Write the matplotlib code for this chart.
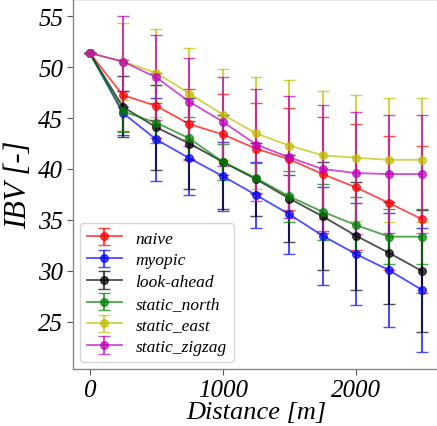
import matplotlib
matplotlib.use("Agg")
import matplotlib.pyplot as plt

distance = [0, 250, 500, 750, 1000, 1250, 1500, 1750, 2000, 2250, 2500]

naive = [51.4, 47.25, 46.2, 44.4, 43.4, 42.0, 40.95, 39.5, 38.2, 36.65, 35.05]
naive_err = [0, 3.5, 3.2, 3.5, 4.0, 4.5, 5.0, 5.6, 6.2, 6.6, 7.2]

myopic = [51.4, 45.5, 42.9, 41.05, 39.3, 37.45, 35.55, 33.45, 31.65, 30.05, 28.1]
myopic_err = [0, 2.2, 4.1, 3.65, 3.4, 3.2, 3.86, 4.8, 5.0, 5.6, 6.1]

look_ahead = [51.4, 46.1, 44.1, 42.5, 40.7, 39.0, 37.1, 35.35, 33.45, 31.75, 29.95]
look_ahead_err = [0, 3.0, 4.2, 4.44, 4.6, 3.6, 4.26, 5.3, 5.3, 5.0, 6.0]

static_north = [51.4, 45.65, 44.55, 43.0, 40.7, 39.1, 37.3, 35.8, 34.5, 33.35, 33.35]
static_north_err = [0, 2.0, 1.95, 2.06, 1.8, 1.5, 2.55, 2.73, 2.7, 2.67, 2.72]

static_east = [51.4, 50.55, 49.45, 47.4, 45.35, 43.5, 42.3, 41.35, 41.1, 40.9, 40.9]
static_east_err = [0, 3.8, 4.3, 4.5, 4.5, 5.5, 6.4, 6.3, 6.2, 6.1, 6.1]

static_zigzag = [51.4, 50.55, 49.0, 46.6, 44.65, 42.4, 41.15, 40.0, 39.6, 39.5, 39.5]
static_zigzag_err = [0, 4.5, 4.2, 4.3, 4.4, 5.5, 6.0, 6.3, 6.0, 5.8, 5.8]

labels = ["naive", "myopic", "look-ahead", "static_north", "static_east", "static_zigzag"]
series = [naive, myopic, look_ahead, static_north, static_east, static_zigzag]
errors = [naive_err, myopic_err, look_ahead_err, static_north_err, static_east_err, static_zigzag_err]
colors = ["r", "b", "k", "g", "y", "m"]

x_ticks = [0, 1000, 2000]
y_ticks = [25, 30, 35, 40, 45, 50, 55]

SERIF = ["Liberation Serif", "DejaVu Serif"]
plt.rcParams["font.family"] = SERIF
plt.rcParams["font.style"] = "italic"

W, H = 437, 427
fig = plt.figure(figsize=(W / 100, H / 100), dpi=100)
ax = fig.add_axes([73 / W, 1 - 370 / H, (439 - 73) / W, 370 / H])

for y, e, c, lab in zip(series, errors, colors, labels):
    ax.errorbar(distance, y, yerr=e, color=c, marker="o", markersize=5.5,
                linewidth=1.3, capsize=4, elinewidth=1.5, alpha=0.7, label=lab)

ax.set_xlim(-125, 2625)
ax.set_ylim(20.35, 56.7)
ax.set_xticks(x_ticks)
ax.set_xticklabels([str(v) for v in x_ticks], fontfamily=SERIF, style="italic", fontsize=18)
ax.set_yticks(y_ticks)
ax.set_yticklabels([str(v) for v in y_ticks], fontfamily=SERIF, style="italic", fontsize=18)
ax.tick_params(color="#555555", length=4, pad=3)
ax.set_xlabel("Distance [m]", fontsize=19, fontfamily=SERIF, style="italic", labelpad=0)
ax.set_ylabel("IBV [-]", fontsize=22, fontfamily=SERIF, style="italic", labelpad=4)
for s in ax.spines.values():
    s.set_color("#888888")
    s.set_linewidth(1.0)

leg = ax.legend(loc="lower left", prop={"family": SERIF, "style": "italic", "size": 12.5},
                handlelength=2, borderaxespad=0.4, labelspacing=0.32)

fig.savefig("out.png", dpi=100)
